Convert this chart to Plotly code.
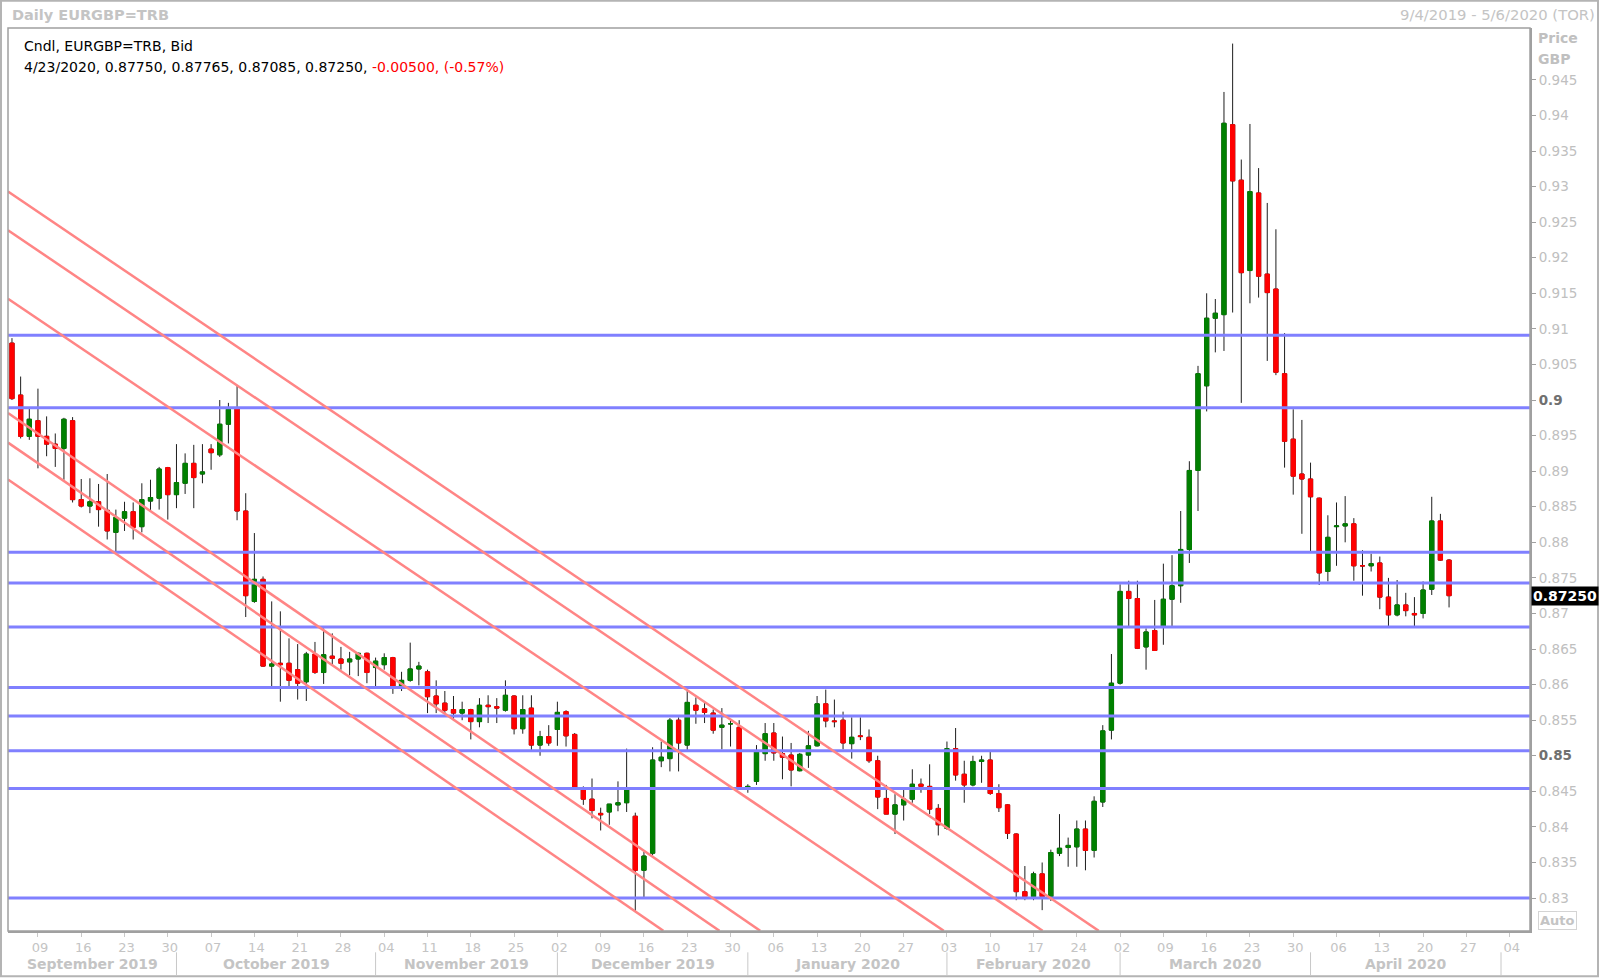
import numpy as np
import pandas as pd
import plotly.graph_objects as go

# ---------------- data ----------------
dates = pd.bdate_range("2019-09-04", "2020-04-23")  # daily bars (weekdays)

open_ = [
    .9080, .9007, .8949,
    .8971, .8949, .8938, .8932, .8971,
    .8860, .8851, .8857, .8845, .8814,
    .8834, .8843, .8822, .8858, .8862,
    .8905, .8867, .8883, .8911, .8896,
    .8931, .8923, .8966, .8988, .8844,
    .8717, .8748, .8626, .8630, .8630,
    .8621, .8604, .8643, .8617, .8640,
    .8636, .8632, .8636, .8644, .8624,
    .8628, .8638, .8598, .8606, .8622,
    .8618, .8584, .8574, .8565, .8560,
    .8565, .8548, .8571, .8569, .8564,
    .8584, .8538, .8567, .8515, .8527,
    .8537, .8562, .8530, .8452, .8439,
    .8419, .8421, .8431, .8434, .8415,
    .8339, .8363, .8493, .8496, .8550,
    .8515, .8571, .8566, .8560, .8540,
    .8545, .8540, .8455, .8464, .8503,
    .8532, .8503, .8501, .8479, .8501,
    .8514, .8573, .8549, .8550, .8517,
    .8528, .8526, .8493, .8440, .8418,
    .8431, .8439, .8460, .8457, .8426,
    .8398, .8510, .8474, .8459, .8492,
    .8494, .8447, .8431, .8390, .8309,
    .8302, .8334, .8302, .8363, .8371,
    .8372, .8397, .8367, .8435, .8536,
    .8602, .8731, .8721, .8653, .8676,
    .8682, .8720, .8739, .8790, .8901,
    .9020, .9115, .9120, .9387, .9309,
    .9182, .9291, .9177, .9156, .9037,
    .8945, .8896, .8889, .8862, .8759,
    .8822, .8823, .8826, .8767, .8767,
    .8771, .8723, .8698, .8712, .8700,
    .8700, .8734, .8830, .87750,
]
high = [
    .9087, .9033, .8988,
    .9016, .8977, .8953, .8975, .8976,
    .8889, .8890, .8882, .8896, .8846,
    .8857, .8856, .8883, .8888, .8906,
    .8906, .8938, .8925, .8937, .8938,
    .8938, .9000, .8996, .9020, .8869,
    .8813, .8752, .8717, .8703, .8665,
    .8657, .8646, .8660, .8679, .8672,
    .8653, .8646, .8645, .8645, .8638,
    .8644, .8639, .8618, .8659, .8632,
    .8621, .8606, .8591, .8584, .8576,
    .8566, .8581, .8585, .8581, .8606,
    .8585, .8585, .8585, .8535, .8543,
    .8576, .8564, .8532, .8457, .8468,
    .8427, .8432, .8464, .8510, .8420,
    .8365, .8512, .8520, .8553, .8554,
    .8593, .8582, .8574, .8565, .8567,
    .8550, .8550, .8460, .8515, .8546,
    .8546, .8527, .8518, .8504, .8535,
    .8584, .8593, .8579, .8562, .8554,
    .8554, .8537, .8500, .8459, .8446,
    .8453, .8481, .8468, .8488, .8432,
    .8520, .8539, .8493, .8500, .8500,
    .8506, .8460, .8432, .8391, .8345,
    .8337, .8350, .8368, .8418, .8385,
    .8409, .8409, .8443, .8543, .8643,
    .8741, .8746, .8746, .8679, .8719,
    .8770, .8782, .8844, .8914, .9048,
    .9150, .9142, .9433, .9501, .9338,
    .9388, .9326, .9277, .9240, .9094,
    .8987, .8972, .8912, .8863, .8838,
    .8856, .8865, .8834, .8789, .8784,
    .8780, .8750, .8747, .8729, .8723,
    .8745, .8864, .8840, .87765,
]
low = [
    .9000, .8946, .8944,
    .8904, .8921, .8906, .8888, .8856,
    .8849, .8841, .8822, .8804, .8785,
    .8816, .8804, .8814, .8845, .8846,
    .8832, .8848, .8868, .8848, .8883,
    .8902, .8920, .8939, .8831, .8695,
    .8715, .8625, .8597, .8576, .8596,
    .8579, .8577, .8615, .8601, .8628,
    .8621, .8613, .8612, .8602, .8598,
    .8621, .8587, .8591, .8604, .8599,
    .8560, .8560, .8560, .8550, .8550,
    .8523, .8540, .8546, .8546, .8562,
    .8530, .8531, .8508, .8500, .8514,
    .8514, .8513, .8454, .8431, .8412,
    .8395, .8403, .8422, .8421, .8281,
    .8300, .8360, .8484, .8478, .8478,
    .8508, .8545, .8546, .8531, .8509,
    .8513, .8454, .8448, .8459, .8493,
    .8493, .8467, .8457, .8478, .8483,
    .8513, .8540, .8540, .8509, .8496,
    .8522, .8490, .8425, .8418, .8390,
    .8409, .8434, .8448, .8418, .8388,
    .8396, .8465, .8434, .8457, .8462,
    .8445, .8421, .8383, .8297, .8297,
    .8297, .8283, .8296, .8359, .8344,
    .8344, .8339, .8357, .8428, .8523,
    .8600, .8681, .8650, .8621, .8648,
    .8656, .8681, .8715, .8771, .8844,
    .8984, .9067, .9069, .9123, .8996,
    .9136, .9144, .9055, .9035, .8905,
    .8867, .8812, .8787, .8740, .8745,
    .8767, .8800, .8746, .8725, .8759,
    .8706, .8682, .8696, .8696, .8682,
    .8693, .8726, .8774, .87085,
]
close = [
    .9002, .8949, .8973,
    .8949, .8938, .8932, .8973, .8860,
    .8851, .8857, .8846, .8816, .8835,
    .8843, .8821, .8860, .8863, .8903,
    .8867, .8884, .8911, .8891, .8899,
    .8926, .8966, .8987, .8844, .8725,
    .8748, .8626, .8629, .8628, .8606,
    .8602, .8643, .8617, .8642, .8637,
    .8630, .8636, .8644, .8617, .8633,
    .8638, .8597, .8606, .8622, .8626,
    .8583, .8573, .8564, .8560, .8565,
    .8548, .8571, .8569, .8567, .8585,
    .8538, .8565, .8515, .8527, .8518,
    .8561, .8528, .8456, .8439, .8423,
    .8417, .8432, .8434, .8452, .8339,
    .8359, .8494, .8498, .8550, .8518,
    .8575, .8564, .8561, .8536, .8543,
    .8545, .8456, .8457, .8506, .8531,
    .8504, .8498, .8480, .8502, .8514,
    .8573, .8549, .8548, .8518, .8526,
    .8527, .8493, .8442, .8418, .8431,
    .8439, .8460, .8457, .8425, .8403,
    .8510, .8473, .8459, .8492, .8494,
    .8447, .8427, .8391, .8309, .8302,
    .8334, .8302, .8364, .8370, .8374,
    .8397, .8367, .8436, .8535, .8602,
    .8731, .8721, .8651, .8674, .8648,
    .8720, .8739, .8790, .8901, .9037,
    .9115, .9122, .9389, .9308, .9179,
    .9293, .9174, .9151, .9039, .8942,
    .8893, .8889, .8864, .8757, .8807,
    .8823, .8826, .8767, .8767, .8770,
    .8723, .8698, .8712, .8704, .8698,
    .8733, .8830, .8775, .87250,
]

# horizontal support / resistance levels
hlines = [0.9091, 0.8989, 0.8786, 0.8743, 0.8681, 0.8596, 0.8556, 0.8507, 0.8454, 0.8300]

# descending trend lines (start date, start price, end date, end price)
trend_x0 = ["2019-09-03 13:00"] * 6
trend_y0 = [0.92931, 0.92386, 0.91424, 0.89817, 0.89401, 0.88884]
trend_x1 = ["2020-02-26 12:43", "2020-02-18 01:12", "2020-01-31 15:07",
            "2020-01-02 10:19", "2019-12-26 17:17", "2019-12-18 05:46"]
trend_y1 = [0.8254] * 6

y_ticks = [round(0.83 + 0.005 * i, 3) for i in range(24)]
y_range = [0.82537, 0.95229]

# header values
last_label = "4/23/2020, 0.87750, 0.87765, 0.87085, 0.87250, "
last_change = "-0.00500, (-0.57%)"
last_price = "0.87250"

assert len(dates) == len(open_) == len(high) == len(low) == len(close)

# ---------------- figure ----------------
FONT = "DejaVu Sans"
body_hi = [max(o, c) for o, c in zip(open_, close)]
body_lo = [min(o, c) for o, c in zip(open_, close)]

fig = go.Figure()
# wicks (dark)
fig.add_trace(go.Candlestick(
    x=dates, open=open_, high=high, low=low, close=close,
    increasing=dict(line=dict(color="#1e1e1e", width=1), fillcolor="rgba(0,0,0,0)"),
    decreasing=dict(line=dict(color="#1e1e1e", width=1), fillcolor="rgba(0,0,0,0)"),
    whiskerwidth=0, hoverinfo="skip", showlegend=False))
# bodies
fig.add_trace(go.Candlestick(
    x=dates, open=open_, high=body_hi, low=body_lo, close=close,
    increasing=dict(line=dict(color="#008000", width=1), fillcolor="#008000"),
    decreasing=dict(line=dict(color="#ff0000", width=1), fillcolor="#ff0000"),
    whiskerwidth=0, showlegend=False))

shapes = []
for v in hlines:
    shapes.append(dict(type="line", xref="paper", x0=0, x1=1, yref="y", y0=v, y1=v,
                       line=dict(color="#8080ff", width=3), layer="above"))
for a, b, c, d in zip(trend_x0, trend_y0, trend_x1, trend_y1):
    shapes.append(dict(type="line", xref="x", yref="y", x0=a, y0=b, x1=c, y1=d,
                       line=dict(color="#ff8585", width=2.5), layer="above"))

# pixel helpers for paper coordinates (plot area: x 8..1530, y 28..930.7)
PL, PR, PT, PB = 8.0, 1530.0, 28.3, 930.7
def px(x):
    return (x - PL) / (PR - PL)
def py(y):
    return (PB - y) / (PB - PT)

# plot frame and outer frame
shapes.append(dict(type="rect", xref="paper", yref="paper", x0=0, x1=1, y0=0, y1=1,
                   line=dict(color="#a0a0a0", width=1.5), layer="above"))
shapes.append(dict(type="rect", xref="paper", yref="paper", x0=px(1), x1=px(1598), y0=py(976), y1=py(1),
                   line=dict(color="#b4b4b4", width=2), layer="above"))

# month separators and labels
base = pd.Timestamp("2019-09-09")
def wd_idx(d):
    d = pd.Timestamp(d)
    if d >= base:
        return float(np.busday_count(base.date(), d.date()))
    return -float(np.busday_count(d.date(), base.date()))
def wd_ts(v):
    whole = int(np.floor(v))
    frac = v - whole
    return base + pd.offsets.BDay(whole) + pd.Timedelta(days=frac) if whole != 0 else base + pd.Timedelta(days=frac)

left_idx = wd_idx("2019-09-04") - 0.46
month_starts = pd.date_range("2019-09-01", "2020-05-01", freq="MS")
annotations = []
for i in range(len(month_starts) - 1):
    m0 = pd.Timestamp(np.busday_offset(month_starts[i].date(), 0, roll="forward"))
    m1 = pd.Timestamp(np.busday_offset(month_starts[i + 1].date(), 0, roll="forward"))
    s = max(wd_idx(m0), left_idx)
    e = wd_idx(m1)
    ctr = wd_ts((s + e) / 2)
    annotations.append(dict(x=ctr, xref="x", y=py(964), yref="paper", text="<b>%s</b>" % month_starts[i].strftime("%B %Y"),
                            showarrow=False, xanchor="center", yanchor="middle",
                            font=dict(family=FONT, size=14, color="#c4c4c4")))
    shapes.append(dict(type="line", xref="x", yref="paper", x0=m1, x1=m1, y0=py(952), y1=py(975),
                       line=dict(color="#c8c8c8", width=1)))

# titles and header
annotations += [
    dict(x=px(10), y=py(15), xref="paper", yref="paper", text="<b>Daily EURGBP=TRB</b>", showarrow=False,
         xanchor="left", yanchor="middle", font=dict(family=FONT, size=14.5, color="#c4c4c4")),
    dict(x=px(1597), y=py(15), xref="paper", yref="paper", text="9/4/2019 - 5/6/2020 (TOR)", showarrow=False,
         xanchor="right", yanchor="middle", font=dict(family=FONT, size=14.8, color="#c4c4c4")),
    dict(x=px(22), y=py(46), xref="paper", yref="paper", text="Cndl, EURGBP=TRB, Bid", showarrow=False,
         xanchor="left", yanchor="middle", font=dict(family=FONT, size=14, color="#000000")),
    dict(x=px(22), y=py(67), xref="paper", yref="paper",
         text=last_label + "<span style='color:#ff0000'>" + last_change + "</span>", showarrow=False,
         xanchor="left", yanchor="middle", font=dict(family=FONT, size=14, color="#000000")),
    dict(x=px(1536), y=py(38), xref="paper", yref="paper", text="<b>Price</b>", showarrow=False,
         xanchor="left", yanchor="middle", font=dict(family=FONT, size=14, color="#c0c0c0")),
    dict(x=px(1536), y=py(59), xref="paper", yref="paper", text="<b>GBP</b>", showarrow=False,
         xanchor="left", yanchor="middle", font=dict(family=FONT, size=14, color="#c0c0c0")),
    dict(x=px(1531), y=close[-1], xref="paper", yref="y", text="<b>%s</b>" % last_price, showarrow=False,
         xanchor="left", yanchor="middle", bgcolor="#000000", borderpad=1,
         font=dict(family=FONT, size=14, color="#ffffff")),
    dict(x=px(1538), y=py(920), xref="paper", yref="paper", text="<b>Auto</b>", showarrow=False,
         xanchor="left", yanchor="middle", bordercolor="#d4d4d4", borderwidth=1, borderpad=1,
         font=dict(family=FONT, size=13, color="#c4c4c4")),
]

mondays = pd.date_range("2019-09-09", "2020-05-04", freq="7D")
y_text = []
for v in y_ticks:
    s = ("%g" % v)
    if abs(v - 0.9) < 1e-9 or abs(v - 0.85) < 1e-9:
        s = "<span style='color:#707070'><b>%s</b></span>" % s
    y_text.append(s)

fig.update_layout(
    width=1600, height=978,
    margin=dict(l=int(PL), r=int(1600 - PR), t=28, b=47),
    paper_bgcolor="white", plot_bgcolor="white",
    showlegend=False,
    xaxis=dict(type="date", range=[wd_ts(left_idx), wd_ts(172.35)],
               rangebreaks=[dict(bounds=["sat", "mon"])],
               rangeslider=dict(visible=False),
               tickvals=mondays, ticktext=[d.strftime("%d") for d in mondays],
               ticks="outside", ticklen=4, tickcolor="#c8c8c8", ticklabelshift=2,
               tickfont=dict(family=FONT, size=13, color="#c4c4c4"),
               showgrid=False, zeroline=False, showline=True, linecolor="#a0a0a0", linewidth=1.5,
               fixedrange=True),
    yaxis=dict(side="right", range=y_range, tickvals=y_ticks, ticktext=y_text,
               ticks="outside", ticklen=4, tickcolor="#a0a0a0",
               tickfont=dict(family=FONT, size=13.5, color="#c0c0c0"),
               showgrid=False, zeroline=False, showline=True, linecolor="#a0a0a0", linewidth=2,
               fixedrange=True),
    shapes=shapes, annotations=annotations,
)

fig.write_html("out.html", config={"displayModeBar": False},
               post_script="document.body.style.margin='0';document.body.style.overflow='hidden';")
